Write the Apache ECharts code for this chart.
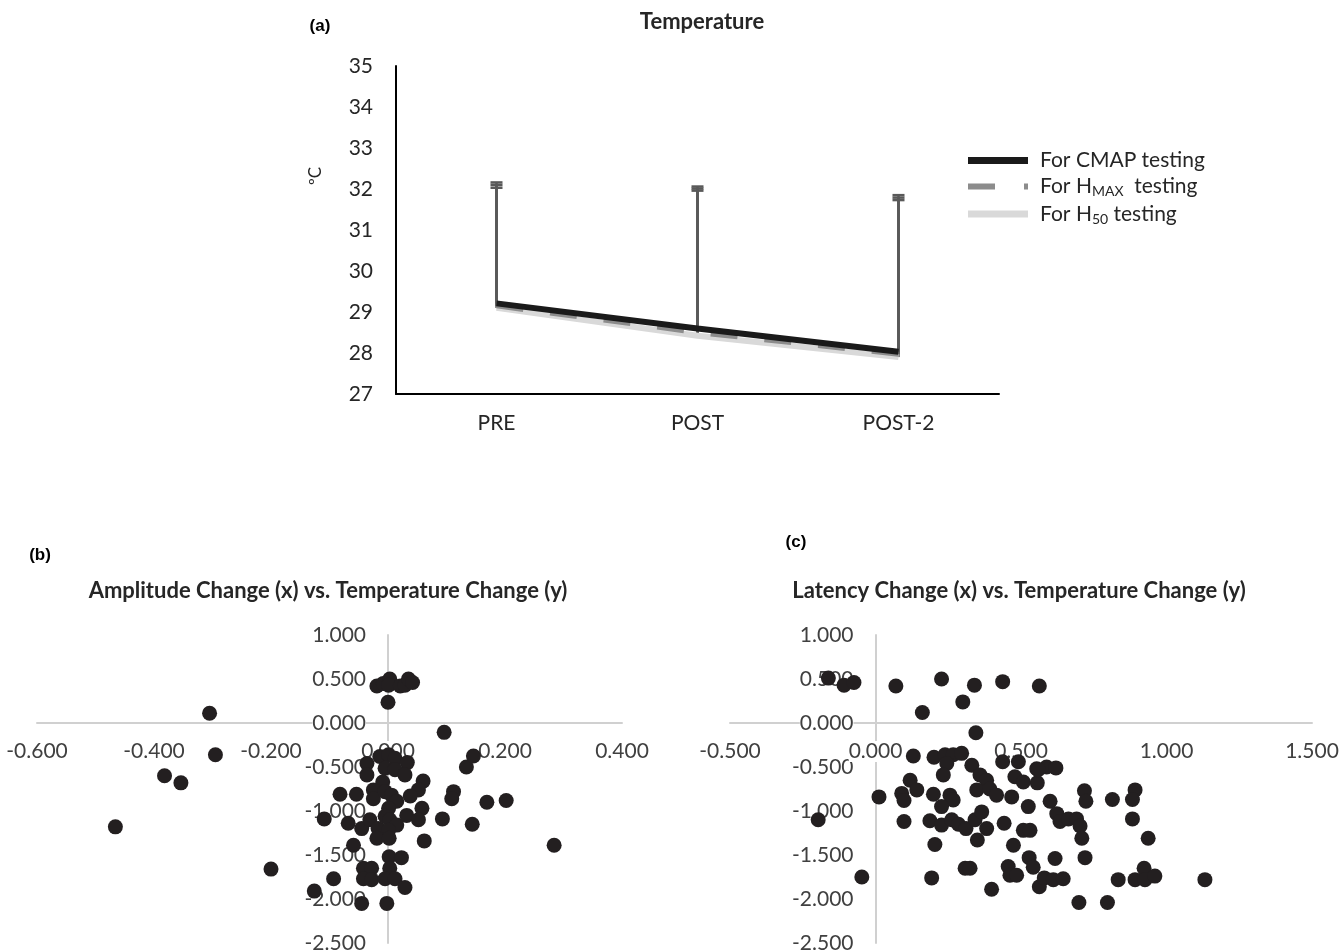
<!DOCTYPE html>
<html>
<head>
<meta charset="utf-8">
<title>Temperature</title>
<script src="https://cdn.jsdelivr.net/npm/echarts@6/dist/echarts.min.js"></script>
<style>
  html, body { margin: 0; padding: 0; background: #fff; }
  #main { width: 1341px; height: 952px; }
</style>
</head>
<body>
<div id="main"></div>
<script>
// (a) temperature per stage
var categories = ['PRE', 'POST', 'POST-2'];
var cmapTemp = [29.21, 28.60, 28.03];
var hmaxTemp = [29.15, 28.50, 27.97];
var h50Temp = [29.10, 28.42, 27.90];
// top of the (+) error bars
var cmapTop = [32.16, 32.06, 31.85];
var hmaxTop = [32.10, 32.01, 31.79];
var h50Top = [32.03, 31.96, 31.73];

// (b) amplitude change (x) vs temperature change (y)
var ampPoints = [
  [-0.019, 0.42], [-0.008, 0.45], [0.003, 0.50], [0.001, 0.43], [0.021, 0.42], [0.029, 0.43],
  [0.035, 0.50], [0.042, 0.46], [0.000, 0.235], [0.096, -0.106],
  [0.134, -0.50], [0.146, -0.375],
  [-0.036, -0.46], [-0.036, -0.59], [-0.014, -0.38], [0.001, -0.36], [0.012, -0.40], [0.033, -0.45],
  [-0.005, -0.515], [0.012, -0.53], [0.029, -0.59], [-0.009, -0.67], [0.060, -0.66], [0.052, -0.76],
  [0.038, -0.83], [-0.025, -0.76], [-0.025, -0.86], [-0.005, -0.78], [0.006, -0.82], [0.015, -0.89],
  [0.001, -0.97], [-0.082, -0.81], [-0.054, -0.81], [0.058, -0.97], [0.112, -0.78], [0.109, -0.86],
  [0.169, -0.90], [0.202, -0.88], [-0.109, -1.09], [-0.068, -1.14], [-0.045, -1.20], [-0.031, -1.10],
  [-0.017, -1.20], [-0.005, -1.06], [0.003, -1.10], [0.015, -1.16], [0.001, -1.22], [-0.019, -1.31],
  [0.002, -1.31], [0.032, -1.05], [0.052, -1.10], [0.093, -1.09], [0.144, -1.15], [0.062, -1.34],
  [-0.059, -1.39], [0.284, -1.39], [0.002, -1.52], [0.023, -1.53], [-0.042, -1.65], [-0.028, -1.65],
  [0.003, -1.65], [-0.093, -1.77], [-0.042, -1.77], [-0.028, -1.78], [-0.005, -1.77], [0.012, -1.77],
  [0.029, -1.87], [-0.045, -2.05], [-0.002, -2.05],
  [-0.305, 0.11], [-0.295, -0.36], [-0.382, -0.60], [-0.354, -0.68], [-0.466, -1.18], [-0.200, -1.66],
  [-0.126, -1.91]
];

// (c) latency change (x) vs temperature change (y)
var latPoints = [
  [-0.162, 0.51], [-0.108, 0.43], [-0.074, 0.46], [0.070, 0.42], [0.227, 0.50], [0.340, 0.43],
  [0.300, 0.24], [0.437, 0.47], [0.563, 0.42], [0.161, 0.12], [0.345, -0.11],
  [0.130, -0.375], [0.201, -0.39], [0.239, -0.36], [0.267, -0.36], [0.296, -0.345], [0.245, -0.46],
  [0.233, -0.59], [0.331, -0.48], [0.359, -0.59], [0.382, -0.65], [0.437, -0.44], [0.491, -0.44],
  [0.479, -0.61], [0.508, -0.67], [0.554, -0.52], [0.588, -0.50], [0.620, -0.51], [0.556, -0.68],
  [0.559, -0.53],
  [0.119, -0.65], [0.142, -0.76], [0.090, -0.80], [0.098, -0.88], [0.199, -0.81], [0.256, -0.82],
  [0.267, -0.875], [0.227, -0.95], [0.348, -0.76], [0.393, -0.75], [0.416, -0.82], [0.468, -0.84],
  [0.525, -0.95], [0.600, -0.89], [0.718, -0.77], [0.723, -0.89], [0.814, -0.87], [0.892, -0.76],
  [0.883, -0.87],
  [0.012, -0.84], [-0.197, -1.10], [0.098, -1.12], [0.187, -1.11], [0.227, -1.16], [0.262, -1.10],
  [0.285, -1.15], [0.311, -1.20], [0.342, -1.10], [0.365, -1.01], [0.382, -1.20], [0.350, -1.33],
  [0.442, -1.14], [0.508, -1.22], [0.531, -1.22], [0.623, -1.03], [0.634, -1.12], [0.663, -1.09],
  [0.691, -1.09], [0.703, -1.17], [0.709, -1.31], [0.883, -1.09], [0.937, -1.31],
  [0.204, -1.38], [0.474, -1.39], [0.528, -1.53], [0.617, -1.54], [0.720, -1.53],
  [0.308, -1.65], [0.325, -1.65], [0.456, -1.63], [0.462, -1.73], [0.485, -1.73], [0.542, -1.64],
  [0.563, -1.86], [0.580, -1.76], [0.611, -1.78], [0.645, -1.77],
  [-0.047, -1.75], [0.193, -1.76], [0.399, -1.89], [0.699, -2.04], [0.797, -2.04], [0.834, -1.78],
  [0.892, -1.78], [0.923, -1.65], [0.926, -1.78], [0.960, -1.74], [1.132, -1.78]
];

var FONT = 'Lato';
var DOT = '#231f20';

// grid boxes (layout only)
var gridA = { left: 396, top: 66, width: 603, height: 328 };
var gridB = { left: 37, top: 635, width: 585, height: 308 };
var gridC = { left: 730, top: 635, width: 582, height: 308 };

var chart = echarts.init(document.getElementById('main'), null, { renderer: 'canvas' });

// error bar rows: [category index, mean, top]
var errRows = [];
[[cmapTemp, cmapTop], [hmaxTemp, hmaxTop], [h50Temp, h50Top]].forEach(function (s) {
  for (var i = 0; i < categories.length; i++) {
    errRows.push([i, s[0][i], s[1][i]]);
  }
});

function renderErr(params, api) {
  var base = api.coord([api.value(0), api.value(1)]);
  var top = api.coord([api.value(0), api.value(2)]);
  var st = { stroke: '#595959', lineWidth: 2.5 };
  return {
    type: 'group',
    children: [
      { type: 'line', shape: { x1: base[0], y1: base[1], x2: top[0], y2: top[1] }, style: st },
      { type: 'line', shape: { x1: top[0] - 6, y1: top[1], x2: top[0] + 6, y2: top[1] }, style: st }
    ]
  };
}

// labels sit next to the axis lines that cross at zero (Excel style),
// so shift them from the grid edge to the zero line
function scatterX(idx, g, min, max, step) {
  var zeroY = g.top + g.height * (1 / 3.5);
  return {
    type: 'value', gridIndex: idx, min: min, max: max, interval: step,
    axisLine: { onZero: true, lineStyle: { color: '#d0d0d0', width: 2 } },
    axisTick: { show: false },
    splitLine: { show: false },
    axisLabel: {
      margin: (zeroY + 18) - (g.top + g.height), fontFamily: FONT, fontSize: 21, color: '#404040',
      showMinLabel: true, showMaxLabel: true, backgroundColor: '#fff',
      formatter: function (v) { return v.toFixed(3); }
    }
  };
}

function scatterY(idx, g, xmin, xmax) {
  var zeroX = g.left + g.width * (-xmin / (xmax - xmin));
  return {
    type: 'value', gridIndex: idx, min: -2.5, max: 1, interval: 0.5,
    axisLine: { onZero: true, lineStyle: { color: '#d0d0d0', width: 2 } },
    axisTick: { show: false },
    splitLine: { show: false },
    axisLabel: {
      margin: 22 - (zeroX - g.left), fontFamily: FONT, fontSize: 21, color: '#404040',
      backgroundColor: '#fff',
      formatter: function (v) { return v.toFixed(3); }
    }
  };
}

function grid(g) {
  return { left: g.left, top: g.top, width: g.width, height: g.height, outerBoundsMode: 'none', containLabel: false };
}

var option = {
  animation: false,
  backgroundColor: '#fff',
  grid: [grid(gridA), grid(gridB), grid(gridC)],
  legend: {
    orient: 'vertical',
    left: 963,
    top: 145,
    itemWidth: 60,
    itemHeight: 7,
    itemGap: 5,
    data: [
      { name: 'For CMAP testing', icon: 'rect', itemStyle: { color: '#1a1a1a' } },
      { name: 'For HMAX testing', icon: 'path://M0,0H27V6H0Z M56,0H60V6H56Z', itemStyle: { color: '#8c8c8c' } },
      { name: 'For H50 testing', icon: 'rect', itemStyle: { color: '#d9d9d9' } }
    ],
    formatter: function (name) {
      if (name === 'For HMAX testing') return '{n|For H}{s|MAX}{n|  testing}';
      if (name === 'For H50 testing') return '{n|For H}{s|50}{n| testing}';
      return '{n|' + name + '}';
    },
    textStyle: {
      padding: [0, 0, 0, 7],
      rich: {
        n: { fontFamily: FONT, fontSize: 21, color: '#262626', lineHeight: 27 },
        s: { fontFamily: FONT, fontSize: 14, color: '#262626', padding: [10, 0, 0, 0] }
      }
    }
  },
  xAxis: [
    {
      type: 'category', gridIndex: 0, data: categories,
      axisLine: { lineStyle: { color: '#000', width: 2 } },
      axisTick: { show: false },
      axisLabel: { margin: 19, fontFamily: FONT, fontSize: 21, color: '#262626' }
    },
    scatterX(1, gridB, -0.6, 0.4, 0.2),
    scatterX(2, gridC, -0.5, 1.5, 0.5)
  ],
  yAxis: [
    {
      type: 'value', gridIndex: 0, min: 27, max: 35, interval: 1,
      axisLine: { show: true, lineStyle: { color: '#000', width: 2 } },
      axisTick: { show: false },
      splitLine: { show: false },
      axisLabel: { margin: 23, fontFamily: FONT, fontSize: 21, color: '#262626' }
    },
    scatterY(1, gridB, -0.6, 0.4),
    scatterY(2, gridC, -0.5, 1.5)
  ],
  graphic: [
    { type: 'text', x: 320, y: 26, style: { text: '(a)', font: 'bold 17px "Liberation Sans"', fill: '#000', align: 'center', verticalAlign: 'middle' } },
    { type: 'text', x: 702, y: 22, style: { text: 'Temperature', font: 'bold 22px Lato', fill: '#262626', align: 'center', verticalAlign: 'middle' } },
    { type: 'text', x: 316, y: 176, rotation: Math.PI / 2, style: { text: 'ºC', font: '17px Lato', fill: '#262626', align: 'center', verticalAlign: 'middle' } },
    { type: 'text', x: 40, y: 555, style: { text: '(b)', font: 'bold 17px "Liberation Sans"', fill: '#000', align: 'center', verticalAlign: 'middle' } },
    { type: 'text', x: 328, y: 591, style: { text: 'Amplitude Change (x) vs. Temperature Change (y)', font: 'bold 22px Lato', fill: '#262626', align: 'center', verticalAlign: 'middle' } },
    { type: 'text', x: 796, y: 542, style: { text: '(c)', font: 'bold 17px "Liberation Sans"', fill: '#000', align: 'center', verticalAlign: 'middle' } },
    { type: 'text', x: 1019, y: 591, style: { text: 'Latency Change (x) vs. Temperature Change (y)', font: 'bold 22px Lato', fill: '#262626', align: 'center', verticalAlign: 'middle' } }
  ],
  series: [
    {
      type: 'custom', name: 'err', xAxisIndex: 0, yAxisIndex: 0, z: 1,
      renderItem: renderErr, data: errRows
    },
    {
      type: 'line', name: 'For H50 testing', xAxisIndex: 0, yAxisIndex: 0, z: 2,
      symbol: 'none', data: h50Temp,
      lineStyle: { color: '#d9d9d9', width: 6 }, itemStyle: { color: '#d9d9d9' }
    },
    {
      type: 'line', name: 'For HMAX testing', xAxisIndex: 0, yAxisIndex: 0, z: 3,
      symbol: 'none', data: hmaxTemp,
      lineStyle: { color: '#8c8c8c', width: 5, type: [27, 27] }, itemStyle: { color: '#8c8c8c' }
    },
    {
      type: 'line', name: 'For CMAP testing', xAxisIndex: 0, yAxisIndex: 0, z: 4,
      symbol: 'none', data: cmapTemp,
      lineStyle: { color: '#1a1a1a', width: 6 }, itemStyle: { color: '#1a1a1a' }
    },
    {
      type: 'scatter', xAxisIndex: 1, yAxisIndex: 1, symbolSize: 15, z: 5,
      itemStyle: { color: DOT, opacity: 1 }, data: ampPoints
    },
    {
      type: 'scatter', xAxisIndex: 2, yAxisIndex: 2, symbolSize: 15, z: 5,
      itemStyle: { color: DOT, opacity: 1 }, data: latPoints
    }
  ]
};

chart.setOption(option);
</script>
</body>
</html>
